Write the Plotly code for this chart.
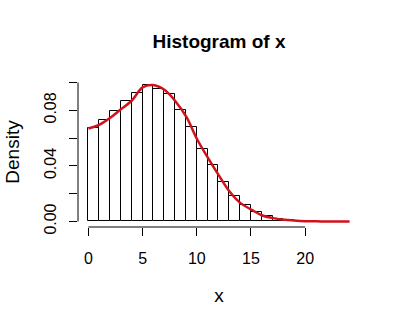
import plotly.graph_objects as go

# Histogram (density) bins of width 1 starting at 0
bin_left = list(range(20))
density = [0.0671, 0.0727, 0.0792, 0.0864, 0.0922, 0.0982, 0.0951, 0.0917,
           0.0806, 0.0681, 0.0525, 0.0409, 0.0287, 0.0183, 0.0116, 0.0067,
           0.0036, 0.0019, 0.0010, 0.0004]

# Density curve
curve_x = [0, 0.93, 1.92, 2.97, 3.99, 5.0, 5.93, 7.04, 8.06, 9.04, 10.03,
           11.03, 12.05, 13.06, 14.04, 15.06, 16.05, 17.07, 18.09, 19.5,
           21.0, 22.5, 24.1]
curve_y = [0.0669, 0.0693, 0.0741, 0.0806, 0.0869, 0.0965, 0.0982, 0.0946,
           0.0862, 0.0753, 0.0592, 0.0458, 0.0330, 0.0212, 0.0132, 0.0084,
           0.0043, 0.0024, 0.0012, 0.0004, 0.0001, 0.0, 0.0]

x_ticks = [0, 5, 10, 15, 20]
y_ticks = [0.00, 0.02, 0.04, 0.06, 0.08, 0.10]
y_ticktext = ["0.00", "", "0.04", "", "0.08", ""]

FONT = "Liberation Sans, Arial, sans-serif"

fig = go.Figure()
fig.add_trace(go.Bar(
    x=[b + 0.5 for b in bin_left], y=density, width=1,
    marker=dict(color="white", line=dict(color="black", width=1)),
    showlegend=False, hoverinfo="skip"))
fig.add_trace(go.Scatter(
    x=curve_x, y=curve_y, mode="lines", line=dict(color="rgb(208,18,28)", width=2.5, shape="spline"),
    showlegend=False, hoverinfo="skip"))

# R-style axis lines spanning only the tick range
fig.add_shape(type="line", xref="x", yref="paper", x0=min(x_ticks), x1=max(x_ticks), y0=0, y1=0,
              line=dict(color="black", width=1))
fig.add_shape(type="line", xref="paper", yref="y", x0=0, x1=0, y0=min(y_ticks), y1=max(y_ticks),
              line=dict(color="black", width=1))

fig.update_layout(
    width=400, height=325,
    margin=dict(l=78, r=40, t=77, b=98),
    paper_bgcolor="white", plot_bgcolor="white",
    font=dict(family=FONT, size=16, color="black"),
    title=dict(text="<b>Histogram of x</b>", x=219/400, xanchor="center",
               y=1 - 41/325, yanchor="middle", font=dict(size=19, family=FONT)),
    bargap=0,
    xaxis=dict(range=[-0.96, 25.06], tickvals=x_ticks, ticks="outside", ticklen=8,
               tickcolor="black", showgrid=False, zeroline=False, showline=False,
               ticklabelstandoff=9,
               title=dict(text="x", standoff=22), fixedrange=True),
    yaxis=dict(range=[-0.004, 0.104], tickvals=y_ticks, ticktext=y_ticktext,
               ticks="outside", ticklen=8, tickcolor="black", tickangle=-90,
               showgrid=False, zeroline=False, showline=False,
               ticklabelstandoff=7,
               title=dict(text="Density", standoff=16), fixedrange=True),
)

fig.write_html("out.html")
